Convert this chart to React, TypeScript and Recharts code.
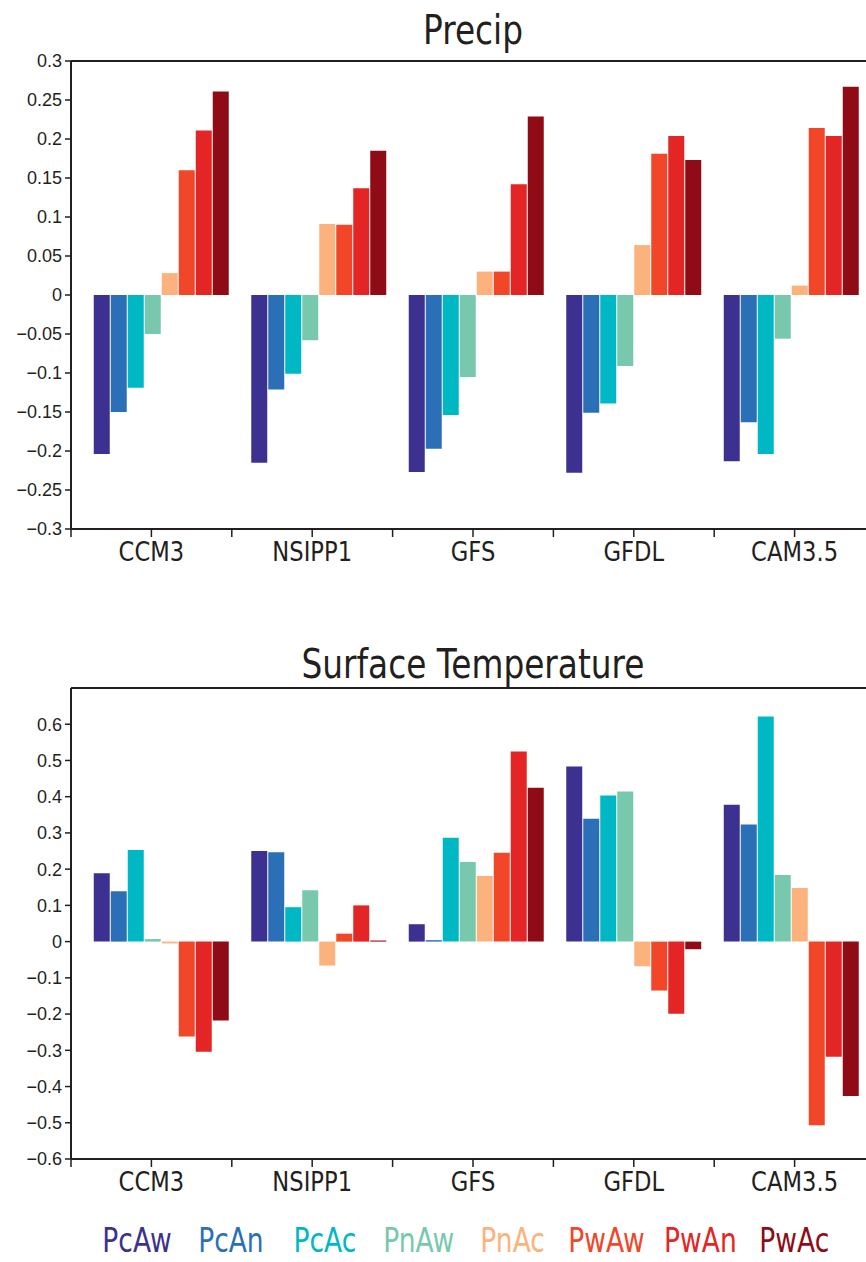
import React from 'react'
import { Bar, BarChart, ReferenceLine, XAxis, YAxis } from 'recharts'

const categories = ['CCM3', 'NSIPP1', 'GFS', 'GFDL', 'CAM3.5']
const seriesNames = ['PcAw', 'PcAn', 'PcAc', 'PnAw', 'PnAc', 'PwAw', 'PwAn', 'PwAc']
const colors = ['#3c3190', '#2b70b7', '#00b8c4', '#78c8ae', '#fbb27d', '#f14628', '#e42525', '#8f0b15']

// one row per series, one value per model
const precipValues = [
  [-0.204, -0.215, -0.227, -0.228, -0.213],
  [-0.15, -0.121, -0.197, -0.151, -0.163],
  [-0.119, -0.101, -0.154, -0.139, -0.204],
  [-0.05, -0.058, -0.105, -0.091, -0.056],
  [0.028, 0.091, 0.03, 0.064, 0.012],
  [0.16, 0.09, 0.03, 0.181, 0.214],
  [0.211, 0.137, 0.142, 0.204, 0.204],
  [0.261, 0.185, 0.229, 0.173, 0.267],
]
const tempValues = [
  [0.189, 0.25, 0.048, 0.483, 0.378],
  [0.139, 0.247, 0.004, 0.339, 0.323],
  [0.253, 0.095, 0.287, 0.403, 0.621],
  [0.007, 0.142, 0.22, 0.414, 0.184],
  [-0.005, -0.066, 0.181, -0.068, 0.148],
  [-0.262, 0.022, 0.245, -0.135, -0.507],
  [-0.304, 0.1, 0.525, -0.199, -0.318],
  [-0.218, 0.003, 0.425, -0.021, -0.426],
]

const precipTicks = [0.3, 0.25, 0.2, 0.15, 0.1, 0.05, 0, -0.05, -0.1, -0.15, -0.2, -0.25, -0.3]
const tempTicks = [0.6, 0.5, 0.4, 0.3, 0.2, 0.1, 0, -0.1, -0.2, -0.3, -0.4, -0.5, -0.6]

const INK = '#231f20'
const CHART_W = 900
const PLOT_LEFT = 71
const PLOT_RIGHT = 875
const BAND = (PLOT_RIGHT - PLOT_LEFT) / categories.length

const toRows = (values: number[][]) =>
  categories.map((name, i) => {
    const row: Record<string, number | string> = { name }
    seriesNames.forEach((s, j) => {
      row[s] = values[j][i]
    })
    return row
  })

const fmt = (v: number) => (v === 0 ? '0' : (v < 0 ? '\u2212' : '') + String(Math.abs(v)))

function ModelTick(props: any) {
  const { x, y, payload, index } = props
  const half = BAND / 2
  return (
    <g>
      <line x1={x} x2={x} y1={y} y2={y + 8} stroke={INK} strokeWidth={1.5} />
      <line x1={x - half} x2={x - half} y1={y} y2={y + 8} stroke={INK} strokeWidth={1.5} />
      {index === categories.length - 1 && (
        <line x1={x + half} x2={x + half} y1={y} y2={y + 8} stroke={INK} strokeWidth={1.5} />
      )}
      <g transform={`translate(${x},${y + 32}) scale(0.84,1)`}>
        <text textAnchor="middle" fontSize={27} fontFamily="DejaVu Sans" fill={INK}>
          {payload.value}
        </text>
      </g>
    </g>
  )
}

function Panel({
  values,
  domain,
  ticks,
  plotHeight,
}: {
  values: number[][]
  domain: [number, number]
  ticks: number[]
  plotHeight: number
}) {
  const data = toRows(values)
  return (
    <BarChart
      width={CHART_W}
      height={61 + plotHeight + 50}
      data={data}
      margin={{ top: 61, right: CHART_W - PLOT_RIGHT, left: 0, bottom: 0 }}
      barGap={1}
      barSize={16}
    >
      <XAxis xAxisId="bar" dataKey="name" hide height={0} padding={{ left: 11.75, right: 4.75 }} />
      <XAxis
        xAxisId="lab"
        dataKey="name"
        height={50}
        tickSize={0}
        tickMargin={0}
        tickLine={false}
        interval={0}
        axisLine={{ stroke: INK, strokeWidth: 2 }}
        tick={<ModelTick />}
      />
      <YAxis
        width={PLOT_LEFT}
        domain={domain}
        allowDataOverflow
        ticks={ticks}
        interval={0}
        tickFormatter={fmt}
        tickSize={6}
        tickMargin={3}
        fontSize={18}
        fontFamily="Liberation Sans"
        axisLine={{ stroke: INK, strokeWidth: 2 }}
        tickLine={{ stroke: INK, strokeWidth: 1.5 }}
        tick={{ fill: INK, fontSize: 18, fontFamily: 'Liberation Sans' }}
      />
      <ReferenceLine y={domain[1]} xAxisId="lab" stroke={INK} strokeWidth={2} />
      {seriesNames.map((s, i) => (
        <Bar key={s} xAxisId="bar" dataKey={s} fill={colors[i]} isAnimationActive={false} />
      ))}
    </BarChart>
  )
}

function CondensedText({
  x,
  y,
  size,
  sx,
  fill,
  children,
}: {
  x: number
  y: number
  size: number
  sx: number
  fill: string
  children: React.ReactNode
}) {
  return (
    <g transform={`translate(${x},${y}) scale(${sx},1)`}>
      <text textAnchor="middle" fontSize={size} fontFamily="DejaVu Sans" fill={fill}>
        {children}
      </text>
    </g>
  )
}

export default function App() {
  const mid = (PLOT_LEFT + PLOT_RIGHT) / 2
  return (
    <div
      style={{
        position: 'absolute',
        top: 0,
        left: 0,
        width: 866,
        height: 1262,
        overflow: 'hidden',
        background: '#fff',
      }}
    >
      <div style={{ position: 'absolute', top: 0, left: 0 }}>
        <Panel values={precipValues} domain={[-0.3, 0.3]} ticks={precipTicks} plotHeight={468} />
      </div>
      <div style={{ position: 'absolute', top: 627, left: 0 }}>
        <Panel values={tempValues} domain={[-0.6, 0.7]} ticks={tempTicks} plotHeight={471} />
      </div>
      <svg
        width={866}
        height={1262}
        style={{ position: 'absolute', top: 0, left: 0, pointerEvents: 'none' }}
      >
        <CondensedText x={mid} y={44} size={41} sx={0.8} fill={INK}>
          Precip
        </CondensedText>
        <CondensedText x={mid} y={678} size={41} sx={0.8} fill={INK}>
          Surface Temperature
        </CondensedText>
        {seriesNames.map((s, i) => (
          <CondensedText key={s} x={137 + i * 93.9} y={1252} size={34} sx={0.78} fill={colors[i]}>
            {s}
          </CondensedText>
        ))}
      </svg>
    </div>
  )
}
